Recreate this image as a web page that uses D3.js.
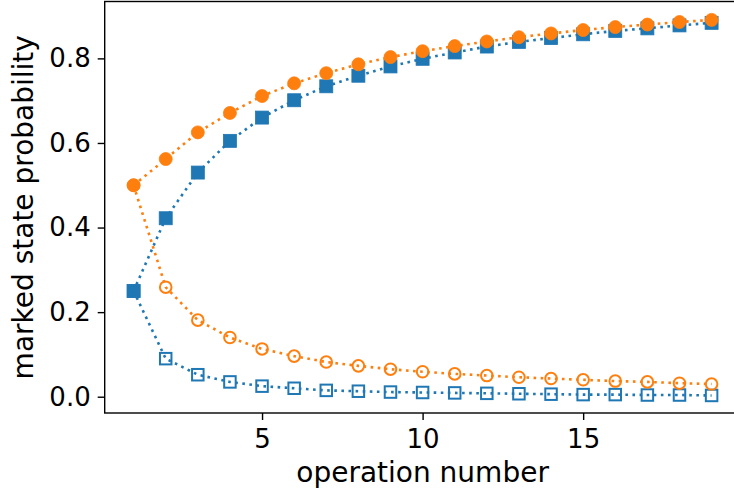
<!DOCTYPE html>
<html>
<head>
<meta charset="utf-8">
<script src="https://cdn.jsdelivr.net/npm/d3@7"></script>
<style>
body { margin: 0; background: #fff; }
svg { display: block; font-family: "DejaVu Sans", sans-serif; }
</style>
</head>
<body>
<script>
var steps = d3.range(1, 20);
var blueFilled = [0.25, 0.422, 0.530, 0.605, 0.660, 0.701, 0.734, 0.759, 0.781, 0.799,
    0.814, 0.828, 0.839, 0.848, 0.857, 0.865, 0.871, 0.878, 0.884];
var orangeFilled = [0.5, 0.562, 0.625, 0.671, 0.711, 0.741, 0.765, 0.786, 0.803, 0.817,
    0.829, 0.840, 0.850, 0.859, 0.867, 0.874, 0.880, 0.886, 0.891];
var blueOpen = [0.25, 0.090, 0.052, 0.035, 0.025, 0.020, 0.015, 0.013, 0.011, 0.010,
    0.009, 0.008, 0.007, 0.006, 0.005, 0.005, 0.004, 0.004, 0.003];
var orangeOpen = [0.5, 0.259, 0.181, 0.140, 0.113, 0.096, 0.082, 0.073, 0.065, 0.059,
    0.054, 0.050, 0.046, 0.043, 0.040, 0.037, 0.035, 0.032, 0.030];
var xTicks = [5, 10, 15];
var yTicks = [0, 0.2, 0.4, 0.6, 0.8];

var w = 734, h = 495;
var blue = '#1f77b4', orange = '#ff7f0e';

var svg = d3.select('body').append('svg')
    .attr('width', w)
    .attr('height', h);

var x = d3.scaleLinear().domain([0.1, 19.9]).range([104.7, 740.5]);
var y = d3.scaleLinear().domain([-0.0385, 0.9345]).range([413, 1.5]);

function series(vals, color, shape, filled) {
    var pts = steps.map(function(s, i) { return [s, vals[i]]; });
    var g = svg.append('g');
    g.append('path')
        .datum(pts)
        .attr('fill', 'none')
        .attr('stroke', color)
        .attr('stroke-width', 2.6)
        .attr('stroke-dasharray', '2.6,4.5')
        .attr('d', d3.line().x(function(d) { return x(d[0]); }).y(function(d) { return y(d[1]); }));
    var m = g.selectAll('.m').data(pts).enter();
    if (shape === 'square') {
        var s = filled ? 13 : 11.5;
        m.append('rect')
            .attr('x', function(d) { return x(d[0]) - s / 2; })
            .attr('y', function(d) { return y(d[1]) - s / 2; })
            .attr('width', s)
            .attr('height', s)
            .attr('fill', filled ? color : 'none')
            .attr('stroke', color)
            .attr('stroke-width', filled ? 0.8 : 2);
    } else {
        m.append('circle')
            .attr('cx', function(d) { return x(d[0]); })
            .attr('cy', function(d) { return y(d[1]); })
            .attr('r', filled ? 6.5 : 5.8)
            .attr('fill', filled ? color : 'none')
            .attr('stroke', color)
            .attr('stroke-width', filled ? 0.8 : 2);
    }
}

series(blueFilled, blue, 'square', true);
series(orangeFilled, orange, 'circle', true);
series(blueOpen, blue, 'square', false);
series(orangeOpen, orange, 'circle', false);

// frame
svg.append('rect')
    .attr('x', x.range()[0])
    .attr('y', y.range()[1])
    .attr('width', x.range()[1] - x.range()[0])
    .attr('height', y.range()[0] - y.range()[1])
    .attr('fill', 'none')
    .attr('stroke', '#000')
    .attr('stroke-width', 1.4);

var xAxis = svg.append('g')
    .attr('transform', 'translate(0,' + y.range()[0] + ')')
    .call(d3.axisBottom(x).tickValues(xTicks).tickSize(7).tickPadding(10).tickSizeOuter(0));
var yAxis = svg.append('g')
    .attr('transform', 'translate(' + x.range()[0] + ',0)')
    .call(d3.axisLeft(y).tickValues(yTicks).tickFormat(d3.format('.1f')).tickSize(7).tickPadding(7).tickSizeOuter(0));

[xAxis, yAxis].forEach(function(a) {
    a.select('.domain').remove();
    a.selectAll('line').attr('stroke', '#000').attr('stroke-width', 1.4);
    a.selectAll('text').attr('fill', '#000').style('font-size', '26px').style('font-family', '"DejaVu Sans", sans-serif');
});

svg.append('text')
    .attr('x', (x.range()[0] + x.range()[1]) / 2)
    .attr('y', 482)
    .attr('text-anchor', 'middle')
    .style('font-size', '28px')
    .text('operation number');

svg.append('text')
    .attr('transform', 'translate(33,' + (y.range()[0] + y.range()[1]) / 2 + ')rotate(-90)')
    .attr('text-anchor', 'middle')
    .style('font-size', '28px')
    .text('marked state probability');
</script>
</body>
</html>
